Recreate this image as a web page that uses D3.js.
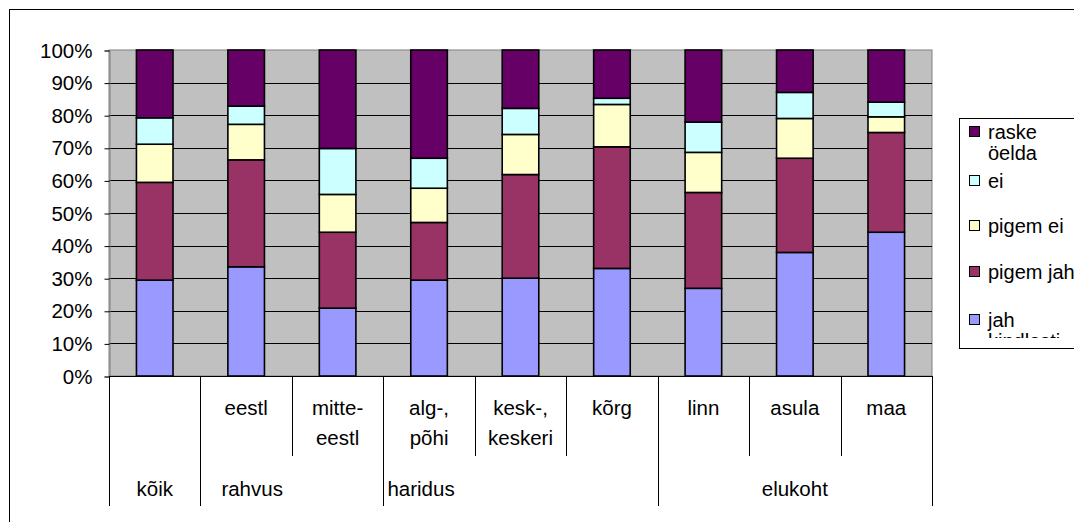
<!DOCTYPE html>
<html><head><meta charset="utf-8">
<script src="https://cdn.jsdelivr.net/npm/d3@7"></script>
<style>
html,body{margin:0;padding:0;background:#fff;}
svg{display:block;font-family:"Liberation Sans",Arial,sans-serif;}
</style></head>
<body>
<svg id="chart" width="1074" height="522"></svg>
<script>
// ---- data ----
const categories = ["kõik","eestl","mitte-eestl","alg-, põhi","kesk-, keskeri","kõrg","linn","asula","maa"];
const leafLabels = [[""],["eestl"],["mitte-","eestl"],["alg-,","põhi"],["kesk-,","keskeri"],["kõrg"],["linn"],["asula"],["maa"]];
const groupNames = ["kõik","rahvus","haridus","elukoht"];
const groupStart = [0,1,3,6];
const groupEnd = [0,2,5,8];
const seriesNames = ["jah kindlasti","pigem jah","pigem ei","ei","raske öelda"];
const legendLines = [["jah","kindlasti"],["pigem jah"],["pigem ei"],["ei"],["raske","öelda"]];
const seriesColors = ["#9999FF","#993366","#FFFFCC","#CCFFFF","#660066"];
const jah      = [29.4,33.5,20.8,29.4,30.0,33.0,26.9,37.9,44.1];
const pigemJah = [30.0,32.8,23.3,17.7,31.8,37.3,29.4,28.9,30.6];
const pigemEi  = [11.7,10.9,11.6,10.5,12.3,13.0,12.3,12.2,4.8];
const ei       = [8.1,5.6,14.1,9.2,8.0,1.9,9.3,8.0,4.5];
const raske    = [20.8,17.2,30.2,33.2,17.9,14.8,22.1,13.0,16.0];
const yTicks = [0,0.1,0.2,0.3,0.4,0.5,0.6,0.7,0.8,0.9,1];

// ---- table for the stack ----
const seriesValues = [jah,pigemJah,pigemEi,ei,raske];
const table = categories.map((c,i)=>{
  const o={cat:c};
  seriesNames.forEach((s,j)=>o[s]=seriesValues[j][i]);
  return o;
});
const stacked = d3.stack().keys(seriesNames).offset(d3.stackOffsetExpand)(table);

const svg = d3.select("#chart");
svg.append("rect").attr("width",1074).attr("height",522).attr("fill","#fff");
// outer chart border (extends past window)
svg.append("rect").attr("x",9.5).attr("y",9.5).attr("width",1200).attr("height",700)
  .attr("fill","none").attr("stroke","#000").attr("stroke-width",1);

const L=109, R=932, T=50, B=376;
const x = d3.scaleBand().domain(categories).range([L,R]).paddingInner(0).paddingOuter(0);
const y = d3.scaleLinear().domain([0,1]).range([B,T]);
const bw = x.bandwidth();
const barW = bw/2.5;

// plot background
svg.append("rect").attr("x",L).attr("y",T).attr("width",R-L).attr("height",B-T)
  .attr("fill","#C0C0C0").attr("stroke","#808080").attr("stroke-width",1);

// gridlines
svg.append("g").selectAll("line").data(yTicks.filter(t=>t>0&&t<1)).join("line")
  .attr("x1",L).attr("x2",R).attr("y1",d=>Math.round(y(d))+0.5).attr("y2",d=>Math.round(y(d))+0.5)
  .attr("stroke","#000").attr("stroke-width",1);

// y axis
const yAxis = d3.axisLeft(y).tickValues(yTicks).tickFormat(d3.format(".0%")).tickSize(5).tickPadding(12);
const ga = svg.append("g").attr("transform",`translate(${L+0.5},0.5)`).call(yAxis);
ga.select(".domain").attr("stroke","#808080");
ga.selectAll(".tick line").attr("stroke","#000");
ga.selectAll("text").attr("font-size",20.5).attr("fill","#000").attr("font-family","Liberation Sans, Arial, sans-serif");

// bars
const gs = svg.append("g").selectAll("g").data(stacked).join("g")
  .attr("fill",(d,i)=>seriesColors[i]);
gs.selectAll("rect").data(d=>d).join("rect")
  .attr("x",d=>x(d.data.cat)+(bw-barW)/2)
  .attr("y",d=>y(d[1]))
  .attr("width",barW)
  .attr("height",d=>y(d[0])-y(d[1]))
  .attr("stroke","#000").attr("stroke-width",1.6);

// bottom axis line
svg.append("line").attr("x1",L).attr("x2",R).attr("y1",B+0.5).attr("y2",B+0.5).attr("stroke","#000");

// category divider lines
const groupBounds = new Set();
groupStart.forEach(s=>groupBounds.add(s));
groupBounds.add(categories.length);
const divs = d3.range(categories.length+1);
svg.append("g").selectAll("line").data(divs).join("line")
  .attr("x1",i=>Math.round(i<categories.length? x(categories[i]) : R)+0.5)
  .attr("x2",i=>Math.round(i<categories.length? x(categories[i]) : R)+0.5)
  .attr("y1",B).attr("y2",i=>groupBounds.has(i)?506:456)
  .attr("stroke","#000").attr("stroke-width",1);

// leaf labels
const leafG = svg.append("g").attr("font-size",20.5).attr("text-anchor","middle").attr("fill","#000");
leafLabels.forEach((lines,i)=>{
  lines.forEach((t,k)=>{
    leafG.append("text").attr("x",x(categories[i])+bw/2).attr("y",415+k*30).text(t);
  });
});

// group labels
const groupNudge = [0,6,-8,0];
const groupAnchor = [0,1,3,7];
const grpG = svg.append("g").attr("font-size",20.5).attr("text-anchor","middle").attr("fill","#000");
groupNames.forEach((g,i)=>{
  grpG.append("text").attr("x",x(categories[groupAnchor[i]])+bw/2+groupNudge[i]).attr("y",496).text(g);
});

// legend
const lg = svg.append("g");
lg.append("rect").attr("x",959.5).attr("y",118.5).attr("width",200).attr("height",230)
  .attr("fill","#fff").attr("stroke","#000");
svg.append("clipPath").attr("id","lgclip").append("rect").attr("x",960).attr("y",119).attr("width",200).attr("height",219);
const legendOrder = [4,3,2,1,0];
const legendY = [139,188,233,279,327];
const lineGap = 21;
const lit = lg.append("g").attr("clip-path","url(#lgclip)");
legendOrder.forEach((si,k)=>{
  const yy = legendY[k];
  lit.append("rect").attr("x",969.5).attr("y",yy-12.5).attr("width",10).attr("height",10)
    .attr("fill",seriesColors[si]).attr("stroke","#000").attr("stroke-width",1);
  legendLines[si].forEach((t,j)=>{
    lit.append("text").attr("x",988).attr("y",yy+j*lineGap).attr("font-size",20).attr("fill","#000").text(t);
  });
});
</script>
</body></html>
